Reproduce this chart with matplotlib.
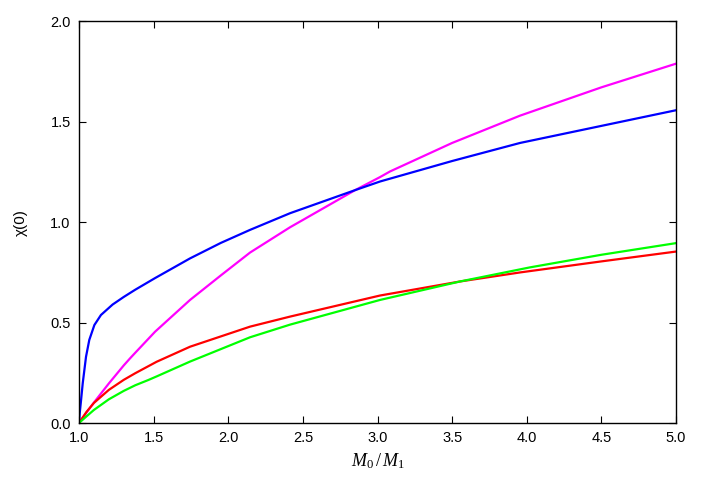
import matplotlib
matplotlib.use("Agg")
import matplotlib.pyplot as plt

# Read-off data
blue_x = [1.0, 1.005, 1.012, 1.025, 1.047, 1.069, 1.103, 1.147, 1.225, 1.30, 1.377, 1.51, 1.744, 1.95, 2.146, 2.414, 2.85, 3.017, 3.5, 3.955, 4.5, 5.0]
blue_y = [0.0, 0.05, 0.10, 0.198, 0.33, 0.414, 0.488, 0.538, 0.59, 0.628, 0.664, 0.722, 0.82, 0.897, 0.962, 1.045, 1.16, 1.203, 1.305, 1.395, 1.48, 1.558]

mag_x = [1.0, 1.05, 1.1, 1.2, 1.3, 1.342, 1.377, 1.51, 1.744, 1.95, 2.146, 2.414, 2.85, 3.017, 3.084, 3.5, 3.955, 4.5, 5.0]
mag_y = [0.0, 0.052, 0.102, 0.197, 0.287, 0.322, 0.35, 0.455, 0.613, 0.735, 0.849, 0.975, 1.16, 1.225, 1.253, 1.395, 1.531, 1.672, 1.79]

red_x = [1.0, 1.05, 1.1, 1.2, 1.3, 1.377, 1.52, 1.744, 2.146, 2.414, 3.017, 3.553, 3.955, 4.5, 5.0]
red_y = [0.0, 0.055, 0.10, 0.165, 0.215, 0.248, 0.305, 0.38, 0.48, 0.53, 0.635, 0.705, 0.75, 0.805, 0.854]

green_x = [1.0, 1.05, 1.1, 1.2, 1.3, 1.377, 1.464, 1.52, 1.744, 2.146, 2.414, 3.017, 3.553, 4.02, 4.5, 5.0]
green_y = [0.0, 0.033, 0.065, 0.118, 0.16, 0.188, 0.214, 0.232, 0.306, 0.427, 0.49, 0.613, 0.705, 0.775, 0.838, 0.896]

xticks = [1.0, 1.5, 2.0, 2.5, 3.0, 3.5, 4.0, 4.5, 5.0]
yticks = [0.0, 0.5, 1.0, 1.5, 2.0]

plt.rcParams['font.family'] = ['Liberation Sans', 'DejaVu Sans']
plt.rcParams['mathtext.fontset'] = 'custom'
plt.rcParams['mathtext.it'] = 'Liberation Serif:italic'
plt.rcParams['mathtext.rm'] = 'Liberation Serif'

fig = plt.figure(figsize=(7.06, 4.94), dpi=100)
ax = fig.add_axes([79/706, 71/494, (676-79)/706, (423-21.5)/494])

ax.plot(mag_x, mag_y, color='#ff00ff', lw=1.6)
ax.plot(blue_x, blue_y, color='#0000ff', lw=1.6)
ax.plot(red_x, red_y, color='#ff0000', lw=1.6)
ax.plot(green_x, green_y, color='#00ff00', lw=1.6)

ax.set_xlim(1.0, 5.0)
ax.set_ylim(0.0, 2.0)
ax.set_xticks(xticks)
ax.set_yticks(yticks)
ax.set_xticklabels([f"{v:.1f}" for v in xticks])
ax.set_yticklabels([f"{v:.1f}" for v in yticks])
ax.tick_params(direction='in', length=5, width=0.8, top=True, right=True, labelsize=10.5, pad=6)
for s in ax.spines.values():
    s.set_linewidth(1.0)

ax.set_xlabel(r"$\mathit{M_0\,/\,M_1}$", fontsize=13, labelpad=4)
ax.set_ylabel("χ(0)", fontsize=11, labelpad=16)

fig.savefig("out.png", dpi=100)
